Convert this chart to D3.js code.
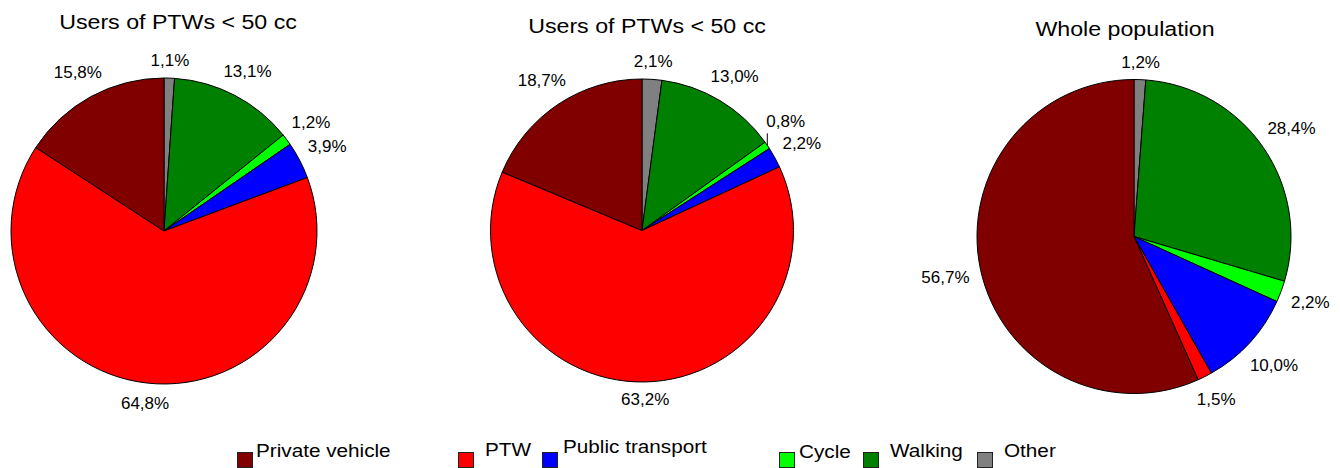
<!DOCTYPE html>
<html lang="en">
<head>
  <meta charset="UTF-8" />
  <title>Modal split pies</title>
  <script src="https://cdn.jsdelivr.net/npm/d3@7"></script>
  <style>
    body { margin: 0; background: #fff; font-family: "Liberation Sans", Arial, sans-serif; }
    svg { display: block; }
    .lbl { font-size: 17px; fill: #000; }
    .ttl { font-size: 20px; fill: #000; }
    .leg { font-size: 18.5px; fill: #000; }
  </style>
</head>
<body>
  <div id="chart"></div>
  <script type="text/javascript">
    // categories, legend order
    var categories = ["Private vehicle", "PTW", "Public transport", "Cycle", "Walking", "Other"];
    var colors = ["#800000", "#ff0000", "#0000ff", "#00ff00", "#008000", "#808080"];

    // shares (%) per category, same order as categories
    var pieA = [15.8, 64.8, 3.9, 1.2, 13.1, 1.1];
    var pieB = [18.7, 63.2, 2.2, 0.8, 13.0, 2.1];
    var pieC = [56.7, 1.5, 10.0, 2.2, 28.4, 1.2];
    var titles = ["Users of PTWs < 50 cc", "Users of PTWs < 50 cc", "Whole population"];

    // slices go clockwise from 12 o'clock: Other first, Private vehicle last
    var sliceOrder = [5, 4, 3, 2, 1, 0];

    // layout (not data)
    var W = 1340, H = 468;
    var layout = [
      { cx: 164, cy: 231, r: 153, tx: 178, ty: 28.5 },
      { cx: 642, cy: 230.5, r: 151.5, tx: 647, ty: 33 },
      { cx: 1134, cy: 236.5, r: 157, tx: 1125, ty: 35.5 }
    ];
    var legendX = [237, 458, 542, 779, 863, 977];
    var legendTextX = [256, 485, 563, 799, 890, 1004];
    var legendBase = [457, 456, 453, 458, 457, 457];

    var svg = d3.select("#chart").append("svg")
      .attr("width", W)
      .attr("height", H);

    var pie = d3.pie().sort(null).value(function(d) { return d.value; });
    var fmt = function(v) { return d3.format(".1f")(v).replace(".", ",") + "%"; };

    [pieA, pieB, pieC].forEach(function(values, k) {
      var L = layout[k];
      var rows = sliceOrder.map(function(i) {
        return { cat: categories[i], color: colors[i], value: values[i] };
      });
      var arcs = pie(rows);
      var arc = d3.arc().innerRadius(0).outerRadius(L.r);

      var g = svg.append("g").attr("transform", "translate(" + L.cx + "," + L.cy + ")");

      g.selectAll("path.slice")
        .data(arcs)
        .join("path")
        .attr("class", "slice")
        .attr("d", arc)
        .attr("fill", function(d) { return d.data.color; })
        .attr("stroke", "#000")
        .attr("stroke-width", 1)
        .attr("stroke-linejoin", "round");

      // labels outside the edge, pushed out by half of their box
      var pad = 11;
      arcs.forEach(function(d) {
        var a = (d.startAngle + d.endAngle) / 2;
        var sx = Math.sin(a), sy = -Math.cos(a);
        var t = g.append("text").attr("class", "lbl").text(fmt(d.data.value));
        var w = t.node().getComputedTextLength();
        if (d.data.value < 1) {
          // tiny slice: short leader line straight up, label sits on it
          var ex = L.r * sx, ey = L.r * sy;
          g.append("line")
            .attr("x1", ex).attr("y1", ey)
            .attr("x2", ex).attr("y2", ey - 12)
            .attr("stroke", "#000").attr("stroke-width", 1);
          t.attr("x", ex - 1).attr("y", ey - 18).attr("text-anchor", "start");
        } else {
          var dist = L.r + pad + Math.abs(sx) * w / 2 + Math.abs(sy) * 6;
          t.attr("x", dist * sx)
            .attr("y", dist * sy + 6)
            .attr("text-anchor", "middle");
        }
      });

      svg.append("text")
        .attr("class", "ttl")
        .attr("text-anchor", "middle")
        .attr("transform", "translate(" + L.tx + "," + L.ty + ") scale(1.16,1)")
        .text(titles[k]);
    });

    // legend, squares partly cut by the bottom edge as in the source
    var leg = svg.append("g");
    categories.forEach(function(c, i) {
      leg.append("rect")
        .attr("x", legendX[i] + 0.5)
        .attr("y", 452.5)
        .attr("width", 15)
        .attr("height", 15)
        .attr("fill", colors[i])
        .attr("stroke", "#222")
        .attr("stroke-width", 1);
      leg.append("text")
        .attr("class", "leg")
        .attr("transform", "translate(" + legendTextX[i] + "," + legendBase[i] + ") scale(1.12,1)")
        .text(c);
    });
  </script>
</body>
</html>
